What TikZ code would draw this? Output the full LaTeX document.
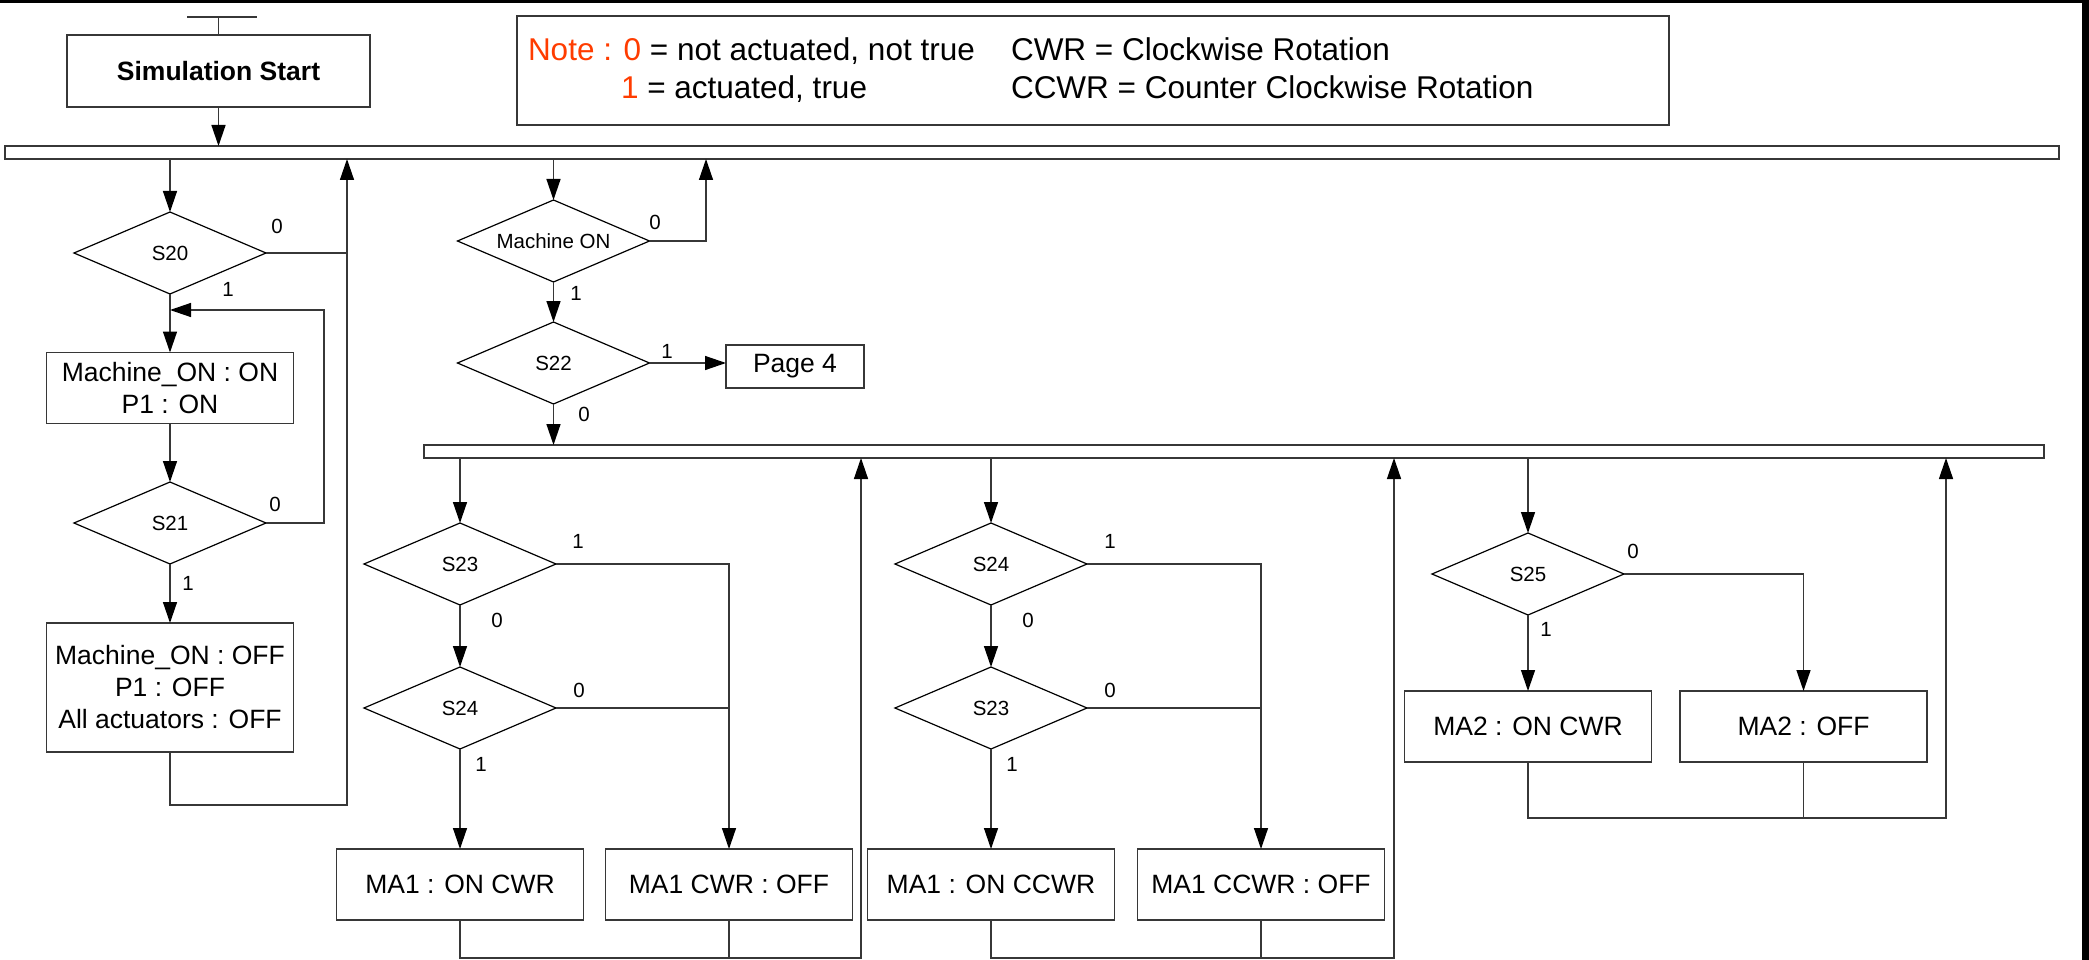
\documentclass[tikz,border=0pt]{standalone}
\usepackage{fontspec}
\setmainfont{Liberation Sans}
\usetikzlibrary{shapes.geometric,arrows.meta}
\definecolor{notered}{RGB}{255,60,0}
\definecolor{ln}{RGB}{55,55,55}
\newcommand\nfnt{\fontsize{31.5}{36}\selectfont}
\newcommand\bfnt{\fontsize{26.5}{32}\selectfont}
\newcommand\sfnt{\fontsize{20.5}{24}\selectfont}
\begin{document}
\begin{tikzpicture}[x=1pt,y=-1pt,
  every node/.style={inner sep=0pt, outer sep=0pt},
  actbox/.style={draw=ln, line width=1.4pt, rectangle, minimum width=247pt, minimum height=71pt, align=center, font=\bfnt},
  dia/.style={draw=black, line width=1.2pt, diamond, aspect=2.34, minimum width=192pt, minimum height=82pt, font=\sfnt},
  lab/.style={font=\sfnt},
  bar/.style={draw=ln, line width=1.4pt, fill=white, rectangle, minimum height=13pt},
  con/.style={draw=ln, line width=1.4pt},
  arr/.style={con, -{Triangle[length=21pt,width=14pt,color=black]}}
]
\useasboundingbox (0,0) rectangle (2089,960);
\fill[black] (0,0) rectangle (2089,3.5);
\fill[black] (2082,0) rectangle (2089,960);

% start and note
\node[actbox, minimum width=303pt, minimum height=72pt, font=\bfseries\bfnt] (start) at (218.5,71) {Simulation Start};
\coordinate (tl) at (187,17);
\coordinate (tr) at (257,17);
\node[draw=ln, line width=1.4pt, minimum width=1152pt, minimum height=109pt] (note) at (1093,70.5) {};
\node[anchor=base west, font=\nfnt] (n1) at (528,61) {\textcolor{notered}{Note : 0} = not actuated, not true};
\node[anchor=base west, font=\nfnt] (n2) at (621,99) {\textcolor{notered}{1} = actuated, true};
\node[anchor=base west, font=\nfnt] (n3) at (1011,61) {CWR = Clockwise Rotation};
\node[anchor=base west, font=\nfnt] (n4) at (1011,99) {CCWR = Counter Clockwise Rotation};

% bars
\node[bar, minimum width=2054pt] (bar1) at (1032,152.5) {};
\node[bar, minimum width=1620pt] (bar2) at (1234,451.5) {};

% column 1
\node[dia] (s20) at (170,253) {S20};
\node[actbox] (m1) at (170,388) {Machine\_ON : ON\\P1 : ON};
\node[dia] (s21) at (170,523) {S21};
\node[actbox, minimum height=129pt] (m2) at (170,687.5) {Machine\_ON : OFF\\P1 : OFF\\All actuators : OFF};

\draw[con] (tl) -- (tr);
\draw[con] (start.north |- tl) -- (start.north);
\draw[arr] (start.south) -- (start.south |- bar1.north);
\draw[arr] (s20.north |- bar1.south) -- (s20.north);
\coordinate (x1) at (347,805);
\draw[con] (s20.east) -- (s20.east -| x1);
\draw[arr] (m2.south) |- (x1) -- (x1 |- bar1.south);
\draw[arr] (s20.south) -- (m1.north);
\coordinate (l1) at (324,310);
\draw[arr] (s21.east) -| (l1) -- (l1 -| s20.south);
\draw[arr] (m1.south) -- (s21.north);
\draw[arr] (s21.south) -- (m2.north);

\node[lab] (l20a) at (277,226) {0};
\node[lab] (l20b) at (228,289) {1};
\node[lab] (l21a) at (275,504) {0};
\node[lab] (l21b) at (188,583) {1};

% column 2
\node[dia] (mon) at (553.5,241) {Machine ON};
\node[dia] (s22) at (553.5,363) {S22};
\node[actbox, minimum width=138pt, minimum height=43pt] (pg4) at (795,366.5) {Page 4};
\coordinate (x2) at (706,0);
\draw[arr] (mon.north |- bar1.south) -- (mon.north);
\draw[arr] (mon.east) -| (x2 |- bar1.south);
\draw[arr] (mon.south) -- (s22.north);
\draw[arr] (s22.east) -- (s22.east -| pg4.west);
\draw[arr] (s22.south) -- (s22.south |- bar2.north);

\node[lab] (lma) at (655,222) {0};
\node[lab] (lmb) at (576,293) {1};
\node[lab] (l22a) at (667,351) {1};
\node[lab] (l22b) at (584,414) {0};

% sub-column A
\node[dia] (a1d) at (460,564) {S23};
\node[dia] (a2d) at (460,708) {S24};
\node[actbox] (a1) at (460,884.5) {MA1 : ON CWR};
\node[actbox] (a2) at (729,884.5) {MA1 CWR : OFF};
\coordinate (ra) at (861,958);
\draw[arr] (a1d.north |- bar2.south) -- (a1d.north);
\draw[arr] (a1d.east) -| (a2.north);
\draw[con] (a2d.east) -- (a2d.east -| a2.north);
\draw[arr] (a1d.south) -- (a2d.north);
\draw[arr] (a2d.south) -- (a1.north);
\draw[arr] (a1.south) |- (ra) -- (ra |- bar2.south);
\draw[con] (a2.south) -- (a2.south |- ra);
\node[lab] (la1) at (578,541) {1};
\node[lab] (la2) at (497,620) {0};
\node[lab] (la3) at (579,690) {0};
\node[lab] (la4) at (481,764) {1};

% sub-column B
\node[dia] (b1d) at (991,564) {S24};
\node[dia] (b2d) at (991,708) {S23};
\node[actbox] (b1) at (991,884.5) {MA1 : ON CCWR};
\node[actbox] (b2) at (1261,884.5) {MA1 CCWR : OFF};
\coordinate (rb) at (1394,958);
\draw[arr] (b1d.north |- bar2.south) -- (b1d.north);
\draw[arr] (b1d.east) -| (b2.north);
\draw[con] (b2d.east) -- (b2d.east -| b2.north);
\draw[arr] (b1d.south) -- (b2d.north);
\draw[arr] (b2d.south) -- (b1.north);
\draw[arr] (b1.south) |- (rb) -- (rb |- bar2.south);
\draw[con] (b2.south) -- (b2.south |- rb);
\node[lab] (lb1) at (1110,541) {1};
\node[lab] (lb2) at (1028,620) {0};
\node[lab] (lb3) at (1110,690) {0};
\node[lab] (lb4) at (1012,764) {1};

% sub-column C
\node[dia] (cd) at (1528,574) {S25};
\node[actbox] (c1) at (1528,726.5) {MA2 : ON CWR};
\node[actbox] (c2) at (1803.5,726.5) {MA2 : OFF};
\coordinate (rc) at (1946,818);
\draw[arr] (cd.north |- bar2.south) -- (cd.north);
\draw[arr] (cd.east) -| (c2.north);
\draw[arr] (cd.south) -- (c1.north);
\draw[arr] (c1.south) |- (rc) -- (rc |- bar2.south);
\draw[con] (c2.south) -- (c2.south |- rc);
\node[lab] (lc1) at (1633,551) {0};
\node[lab] (lc2) at (1546,629) {1};
\end{tikzpicture}
\end{document}
